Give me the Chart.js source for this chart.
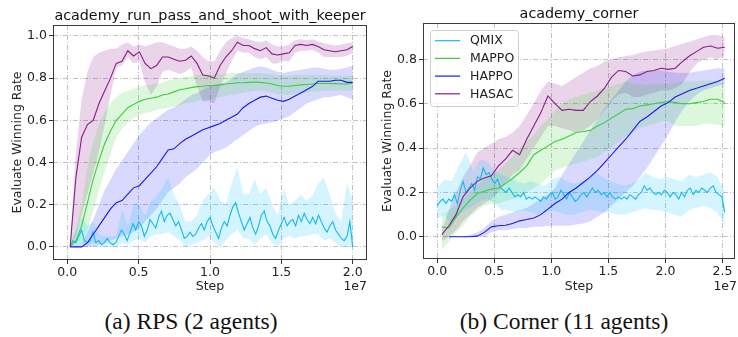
<!DOCTYPE html>
<html>
<head>
<meta charset="utf-8">
<script src="https://cdn.jsdelivr.net/npm/chart.js@4.4.1/dist/chart.umd.min.js"></script>
<style>
  body { margin: 0; background: #fff; width: 738px; height: 337px; position: relative; overflow: hidden; }
  .panel { position: absolute; top: 0; }
  .cap { position: absolute; top: 309px; font: 23.5px "Liberation Serif", "Times New Roman", serif; line-height: 24px; color: #111; text-align: center; }
</style>
</head>
<body>
<div class="panel" style="left:0"><canvas id="rps" width="369" height="300"></canvas></div>
<div class="panel" style="left:369px"><canvas id="corner" width="369" height="300"></canvas></div>
<div class="cap" style="left:0;width:382px">(a) RPS (2 agents)</div>
<div class="cap" style="left:390px;width:348px">(b) Corner (11 agents)</div>
<script>
// ---- academy_run_pass_and_shoot_with_keeper (x in units of 1e7 steps) ----
const rpsCoarse = { start: 0.02, end: 2.0, n: 50 };
const rpsFine = { start: 0.02, end: 2.0, n: 100 };
const rpsQmixBandGrid = { start: 0.02, end: 2.0, n: 50 };

const rpsHasac = [0.0, 0.33, 0.52, 0.58, 0.6, 0.68, 0.74, 0.8, 0.87, 0.88, 0.93, 0.905, 0.925, 0.87, 0.845, 0.86, 0.9, 0.9, 0.89, 0.88,
  0.885, 0.905, 0.87, 0.815, 0.81, 0.8, 0.86, 0.9, 0.93, 0.97, 0.955, 0.955, 0.94, 0.93, 0.945, 0.915, 0.91, 0.915, 0.92, 0.955,
  0.96, 0.955, 0.96, 0.95, 0.935, 0.93, 0.925, 0.93, 0.935, 0.95];
const rpsHasacHi = [0.02, 0.45, 0.7, 0.83, 0.9, 0.92, 0.93, 0.94, 0.94, 0.96, 0.97, 0.95, 0.96, 0.95, 0.96, 0.97, 0.97, 0.96, 0.95, 0.94,
  0.94, 0.95, 0.93, 0.9, 0.88, 0.88, 0.93, 0.97, 0.99, 1.0, 0.99, 0.985, 0.975, 0.97, 0.98, 0.96, 0.95, 0.95, 0.96, 0.98,
  0.985, 0.98, 0.985, 0.975, 0.965, 0.96, 0.955, 0.96, 0.965, 0.97];
const rpsHasacLo = [0.0, 0.05, 0.15, 0.25, 0.35, 0.45, 0.58, 0.72, 0.85, 0.86, 0.9, 0.87, 0.88, 0.78, 0.72, 0.76, 0.83, 0.84, 0.83, 0.82,
  0.83, 0.85, 0.76, 0.69, 0.69, 0.68, 0.76, 0.82, 0.88, 0.93, 0.92, 0.92, 0.9, 0.89, 0.9, 0.87, 0.87, 0.88, 0.88, 0.92,
  0.93, 0.93, 0.935, 0.92, 0.9, 0.9, 0.9, 0.9, 0.905, 0.92];

const rpsMappo = [0.0, 0.03, 0.1, 0.21, 0.32, 0.41, 0.49, 0.55, 0.6, 0.63, 0.66, 0.675, 0.69, 0.7, 0.705, 0.71, 0.72, 0.725, 0.735, 0.745,
  0.75, 0.755, 0.76, 0.762, 0.765, 0.765, 0.768, 0.772, 0.775, 0.778, 0.778, 0.78, 0.782, 0.78, 0.777, 0.772, 0.765, 0.762, 0.762, 0.765,
  0.768, 0.77, 0.772, 0.775, 0.775, 0.775, 0.774, 0.772, 0.772, 0.776];
const rpsMappoHi = [0.02, 0.08, 0.2, 0.38, 0.5, 0.58, 0.64, 0.68, 0.71, 0.73, 0.74, 0.75, 0.757, 0.765, 0.77, 0.775, 0.78, 0.79, 0.795, 0.8,
  0.805, 0.81, 0.815, 0.815, 0.82, 0.82, 0.82, 0.822, 0.825, 0.825, 0.825, 0.825, 0.825, 0.825, 0.822, 0.82, 0.815, 0.812, 0.812, 0.815,
  0.815, 0.815, 0.815, 0.815, 0.815, 0.812, 0.81, 0.81, 0.81, 0.81];
const rpsMappoLo = [0.0, 0.0, 0.02, 0.08, 0.17, 0.27, 0.36, 0.44, 0.52, 0.56, 0.59, 0.61, 0.625, 0.635, 0.64, 0.65, 0.655, 0.66, 0.665, 0.67,
  0.68, 0.685, 0.69, 0.695, 0.7, 0.705, 0.71, 0.715, 0.72, 0.725, 0.73, 0.735, 0.74, 0.74, 0.735, 0.73, 0.725, 0.72, 0.72, 0.725,
  0.73, 0.73, 0.735, 0.735, 0.74, 0.74, 0.74, 0.74, 0.74, 0.74];

const rpsHappo = [0.0, 0.0, 0.0, 0.02, 0.06, 0.1, 0.14, 0.18, 0.21, 0.22, 0.25, 0.28, 0.29, 0.32, 0.35, 0.38, 0.42, 0.46, 0.465, 0.49,
  0.51, 0.525, 0.54, 0.555, 0.565, 0.575, 0.585, 0.6, 0.615, 0.63, 0.66, 0.68, 0.695, 0.71, 0.715, 0.705, 0.695, 0.69, 0.7, 0.715,
  0.73, 0.745, 0.76, 0.785, 0.785, 0.785, 0.79, 0.79, 0.78, 0.78];
const rpsHappoHi = [0.0, 0.0, 0.02, 0.07, 0.13, 0.2, 0.27, 0.32, 0.37, 0.41, 0.45, 0.49, 0.53, 0.56, 0.59, 0.61, 0.63, 0.65, 0.66, 0.68,
  0.7, 0.72, 0.73, 0.745, 0.76, 0.77, 0.775, 0.78, 0.8, 0.82, 0.83, 0.84, 0.85, 0.855, 0.85, 0.84, 0.83, 0.825, 0.83, 0.835,
  0.84, 0.845, 0.85, 0.85, 0.845, 0.84, 0.84, 0.845, 0.85, 0.86];
const rpsHappoLo = [0.0, 0.0, 0.0, 0.0, 0.0, 0.01, 0.02, 0.03, 0.04, 0.05, 0.06, 0.07, 0.09, 0.12, 0.15, 0.18, 0.22, 0.26, 0.28, 0.3,
  0.33, 0.35, 0.37, 0.4, 0.43, 0.45, 0.46, 0.47, 0.49, 0.51, 0.53, 0.55, 0.57, 0.58, 0.585, 0.59, 0.6, 0.61, 0.62, 0.64,
  0.66, 0.68, 0.69, 0.7, 0.71, 0.71, 0.715, 0.72, 0.71, 0.7];

const rpsQmix = [0.0, 0.03, 0.02, 0.05, 0.08, 0.03, 0.02, 0.03, 0.07, 0.02, 0.03, 0.01, 0.02, 0.04, 0.02, 0.01, 0.02, 0.05, 0.08, 0.06,
  0.03, 0.07, 0.11, 0.08, 0.12, 0.1, 0.05, 0.08, 0.13, 0.11, 0.09, 0.14, 0.17, 0.12, 0.15, 0.16, 0.13, 0.1, 0.12, 0.08,
  0.04, 0.05, 0.07, 0.05, 0.06, 0.09, 0.11, 0.08, 0.12, 0.14, 0.1, 0.07, 0.04, 0.09, 0.12, 0.1, 0.15, 0.19, 0.21, 0.16,
  0.12, 0.08, 0.11, 0.14, 0.09, 0.06, 0.1, 0.15, 0.17, 0.12, 0.1, 0.06, 0.04, 0.08, 0.11, 0.14, 0.1, 0.12, 0.13, 0.1,
  0.15, 0.12, 0.16, 0.13, 0.11, 0.14, 0.11, 0.15, 0.12, 0.09, 0.07, 0.1, 0.12, 0.08, 0.06, 0.04, 0.03, 0.05, 0.12, 0.0];
const rpsQmixHi = [0.0, 0.08, 0.14, 0.1, 0.12, 0.06, 0.05, 0.05, 0.05, 0.18, 0.1, 0.2, 0.2, 0.15, 0.22, 0.24, 0.28, 0.33, 0.25, 0.2,
  0.12, 0.12, 0.15, 0.22, 0.25, 0.28, 0.22, 0.2, 0.3, 0.38, 0.25, 0.25, 0.32, 0.25, 0.28, 0.2, 0.15, 0.28, 0.2, 0.22,
  0.25, 0.22, 0.24, 0.3, 0.33, 0.25, 0.16, 0.12, 0.3, 0.22];
const rpsQmixLo = [0.0, 0.0, 0.02, 0.0, 0.02, 0.0, 0.0, 0.0, 0.0, 0.02, 0.01, 0.03, 0.04, 0.02, 0.05, 0.06, 0.06, 0.07, 0.05, 0.03,
  0.0, 0.01, 0.02, 0.03, 0.05, 0.02, 0.0, 0.03, 0.06, 0.08, 0.04, 0.04, 0.01, 0.04, 0.06, 0.02, 0.0, 0.04, 0.05, 0.04,
  0.05, 0.05, 0.06, 0.06, 0.03, 0.04, 0.02, 0.0, 0.0, 0.0];

// ---- academy_corner ----
const cornerCoarse = { start: 0.04, end: 2.52, n: 41 };
const cornerFine = { start: 0.0, end: 2.52, n: 101 };
const cornerQmixBandGrid = { start: 0.0, end: 2.52, n: 41 };

const cornerHasac = [0.01, 0.05, 0.1, 0.18, 0.22, 0.25, 0.265, 0.275, 0.32, 0.35, 0.39, 0.37, 0.44, 0.5, 0.56, 0.635, 0.6, 0.57, 0.575, 0.57,
  0.57, 0.61, 0.635, 0.67, 0.72, 0.75, 0.745, 0.725, 0.73, 0.745, 0.75, 0.76, 0.755, 0.76, 0.79, 0.815, 0.835, 0.855, 0.86, 0.85, 0.855];
const cornerHasacHi = [0.03, 0.12, 0.2, 0.27, 0.32, 0.38, 0.4, 0.42, 0.44, 0.45, 0.47, 0.5, 0.55, 0.6, 0.66, 0.7, 0.69, 0.68, 0.7, 0.72,
  0.74, 0.76, 0.77, 0.79, 0.8, 0.81, 0.815, 0.82, 0.83, 0.835, 0.84, 0.845, 0.85, 0.86, 0.87, 0.88, 0.89, 0.9, 0.91, 0.91, 0.9];
const cornerHasacLo = [-0.02, 0.0, 0.03, 0.07, 0.1, 0.13, 0.15, 0.17, 0.2, 0.24, 0.28, 0.3, 0.35, 0.4, 0.45, 0.5, 0.5, 0.49, 0.48, 0.47,
  0.48, 0.5, 0.53, 0.57, 0.61, 0.64, 0.65, 0.63, 0.63, 0.64, 0.65, 0.66, 0.66, 0.67, 0.69, 0.74, 0.78, 0.8, 0.81, 0.8, 0.82];

const cornerMappo = [0.045, 0.04, 0.09, 0.13, 0.165, 0.195, 0.205, 0.215, 0.22, 0.24, 0.263, 0.29, 0.32, 0.37, 0.39, 0.41, 0.43, 0.44, 0.455, 0.47,
  0.475, 0.48, 0.5, 0.515, 0.535, 0.555, 0.575, 0.578, 0.59, 0.595, 0.6, 0.605, 0.61, 0.605, 0.6, 0.6, 0.605, 0.61, 0.62, 0.62, 0.605];
const cornerMappoHi = [0.1, 0.12, 0.14, 0.17, 0.2, 0.23, 0.26, 0.28, 0.3, 0.33, 0.36, 0.4, 0.43, 0.46, 0.5, 0.53, 0.57, 0.6, 0.62, 0.63,
  0.64, 0.65, 0.66, 0.67, 0.68, 0.69, 0.7, 0.69, 0.69, 0.685, 0.69, 0.69, 0.69, 0.695, 0.7, 0.7, 0.7, 0.705, 0.705, 0.7, 0.7];
const cornerMappoLo = [-0.06, -0.02, 0.02, 0.05, 0.09, 0.12, 0.14, 0.15, 0.15, 0.16, 0.17, 0.18, 0.2, 0.22, 0.24, 0.27, 0.3, 0.31, 0.32, 0.33,
  0.34, 0.35, 0.36, 0.38, 0.4, 0.43, 0.45, 0.47, 0.49, 0.5, 0.51, 0.52, 0.52, 0.5, 0.5, 0.5, 0.5, 0.51, 0.51, 0.505, 0.5];

const cornerHappo = [null, 0.0, 0.0, 0.0, 0.0, 0.003, 0.02, 0.045, 0.05, 0.052, 0.06, 0.072, 0.078, 0.085, 0.1, 0.125, 0.15, 0.17, 0.2, 0.22,
  0.245, 0.27, 0.3, 0.335, 0.37, 0.405, 0.44, 0.48, 0.52, 0.54, 0.565, 0.59, 0.605, 0.63, 0.645, 0.66, 0.67, 0.68, 0.69, 0.7, 0.715];
const cornerHappoHi = [null, 0.0, 0.0, 0.0, 0.01, 0.02, 0.04, 0.07, 0.09, 0.1, 0.11, 0.12, 0.13, 0.15, 0.17, 0.19, 0.22, 0.28, 0.33, 0.38,
  0.43, 0.48, 0.53, 0.58, 0.62, 0.66, 0.7, 0.73, 0.745, 0.75, 0.75, 0.75, 0.745, 0.74, 0.74, 0.74, 0.745, 0.75, 0.755, 0.76, 0.76];
const cornerHappoLo = [null, 0.0, 0.0, 0.0, 0.0, 0.0, 0.0, 0.02, 0.03, 0.03, 0.035, 0.04, 0.04, 0.045, 0.045, 0.05, 0.05, 0.05, 0.05, 0.055,
  0.06, 0.07, 0.09, 0.11, 0.14, 0.17, 0.2, 0.23, 0.27, 0.31, 0.36, 0.41, 0.46, 0.52, 0.57, 0.61, 0.64, 0.66, 0.67, 0.68, 0.69];

const cornerQmix = [0.14, 0.16, 0.17, 0.15, 0.17, 0.16, 0.19, 0.15, 0.21, 0.25, 0.2, 0.22, 0.24, 0.21, 0.27, 0.26, 0.31, 0.28, 0.29, 0.26,
  0.24, 0.26, 0.22, 0.21, 0.2, 0.22, 0.2, 0.18, 0.19, 0.18, 0.2, 0.17, 0.18, 0.17, 0.18, 0.17, 0.16, 0.18, 0.17, 0.19,
  0.2, 0.17, 0.18, 0.21, 0.19, 0.17, 0.2, 0.18, 0.16, 0.17, 0.19, 0.2, 0.18, 0.2, 0.22, 0.2, 0.21, 0.19, 0.2, 0.18,
  0.2, 0.18, 0.17, 0.18, 0.17, 0.18, 0.17, 0.19, 0.18, 0.17, 0.19, 0.2, 0.23, 0.21, 0.22, 0.2, 0.19, 0.2, 0.19, 0.21,
  0.2, 0.18, 0.2, 0.19, 0.17, 0.2, 0.18, 0.21, 0.22, 0.19, 0.21, 0.2, 0.22, 0.21, 0.2, 0.22, 0.23, 0.2, 0.19, 0.18, 0.11];
const cornerQmixHi = [0.22, 0.26, 0.25, 0.32, 0.38, 0.3, 0.35, 0.34, 0.3, 0.28, 0.27, 0.25, 0.24, 0.25, 0.24, 0.23, 0.26, 0.27, 0.25, 0.24,
  0.25, 0.26, 0.29, 0.27, 0.25, 0.24, 0.23, 0.24, 0.26, 0.29, 0.27, 0.26, 0.27, 0.26, 0.25, 0.28, 0.27, 0.28, 0.29, 0.27, 0.2];
const cornerQmixLo = [0.08, 0.1, 0.05, 0.1, 0.12, 0.14, 0.16, 0.17, 0.15, 0.12, 0.12, 0.11, 0.12, 0.11, 0.1, 0.11, 0.12, 0.11, 0.1, 0.1,
  0.11, 0.12, 0.12, 0.11, 0.11, 0.1, 0.1, 0.11, 0.12, 0.13, 0.12, 0.12, 0.11, 0.1, 0.09, 0.12, 0.13, 0.14, 0.13, 0.11, 0.05];

const seriesNames = ['QMIX', 'MAPPO', 'HAPPO', 'HASAC'];
const seriesColors = ['#10b9f2', '#3ccd3c', '#1818f0', '#8a1a8a'];
const bandColors = ['rgba(0,191,255,0.17)', 'rgba(50,205,50,0.17)', 'rgba(0,0,255,0.15)', 'rgba(128,0,128,0.17)'];

const rpsXTicks = [0, 0.5, 1.0, 1.5, 2.0];
const rpsYTicks = [0, 0.2, 0.4, 0.6, 0.8, 1.0];
const cornerXTicks = [0, 0.5, 1.0, 1.5, 2.0, 2.5];
const cornerYTicks = [0, 0.2, 0.4, 0.6, 0.8];

const toPoints = (grid, ys) => ys.map((y, i) => ({ x: grid.start + i * (grid.end - grid.start) / (grid.n - 1), y }));

function buildDatasets(series) {
    const out = [];
    series.forEach((s, k) => {
        const base = out.length;
        out.push({ label: '_hi', data: toPoints(s.bandGrid, s.hi), borderWidth: 0, pointRadius: 0,
            backgroundColor: bandColors[k], fill: { target: base + 1 }, order: 20 });
        out.push({ label: '_lo', data: toPoints(s.bandGrid, s.lo), borderWidth: 0, pointRadius: 0, fill: false, order: 20 });
        out.push({ label: seriesNames[k], data: toPoints(s.grid, s.mean), borderColor: seriesColors[k], borderWidth: 1.1,
            pointRadius: 0, fill: false, order: 10 - k, isLine: true });
    });
    return out;
}

// plot frame, centred title, offset text and the legend box
const frame = {
    id: 'frame',
    afterDraw(chart, args, opts) {
        const { ctx, chartArea: a } = chart;
        ctx.save();
        ctx.strokeStyle = '#3a3a3a';
        ctx.lineWidth = 1;
        ctx.strokeRect(Math.round(a.left) + 0.5, Math.round(a.top) + 0.5, Math.round(a.right - a.left) - 1, Math.round(a.bottom - a.top) - 1);
        ctx.fillStyle = '#111';
        ctx.font = '14.3px "DejaVu Sans"';
        ctx.textAlign = 'center';
        ctx.textBaseline = 'middle';
        ctx.fillText(opts.title, (a.left + a.right) / 2, opts.titleY);
        ctx.fillStyle = '#222';
        ctx.font = '12.5px "DejaVu Sans"';
        ctx.textAlign = 'right';
        ctx.fillText('1e7', a.right + opts.expOffset, 287);
        if (opts.legend) {
            const x = a.left + 7, y = a.top + 7;
            ctx.beginPath();
            ctx.roundRect(x + 0.5, y + 0.5, 88, 76, 3);
            ctx.fillStyle = 'rgba(255,255,255,0.85)';
            ctx.fill();
            ctx.strokeStyle = '#d0d0d0';
            ctx.stroke();
            const lines = chart.data.datasets.filter(d => d.isLine);
            lines.forEach((d, i) => {
                const ry = y + 10.7 + i * 17.7;
                ctx.beginPath();
                ctx.moveTo(x + 5, ry);
                ctx.lineTo(x + 30, ry);
                ctx.strokeStyle = d.borderColor;
                ctx.lineWidth = 1.2;
                ctx.stroke();
                ctx.fillStyle = '#222';
                ctx.textAlign = 'left';
                ctx.font = '12.5px "DejaVu Sans"';
                ctx.fillText(d.label, x + 40, ry + 0.5);
            });
        }
        ctx.restore();
    }
};

function makeChart(id, cfg) {
    const tickFont = { family: 'DejaVu Sans', size: 12.5 };
    return new Chart(document.getElementById(id), {
        type: 'line',
        data: { datasets: buildDatasets(cfg.series) },
        plugins: [frame],
        options: {
            responsive: false,
            animation: false,
            layout: { padding: { left: 0, right: cfg.padRight, top: cfg.plotTop, bottom: 0 } },
            plugins: {
                legend: { display: false },
                tooltip: { enabled: false },
                filler: { drawTime: 'beforeDatasetsDraw' },
                frame: { title: cfg.title, titleY: cfg.titleY, expOffset: cfg.expOffset, legend: cfg.legend }
            },
            scales: {
                x: {
                    type: 'linear', min: cfg.xMin, max: cfg.xMax,
                    afterFit: s => { s.height = cfg.xAxisH; },
                    afterBuildTicks: s => { s.ticks = cfg.xTicks.map(v => ({ value: v })); },
                    ticks: { color: '#222', font: tickFont, padding: 1, maxRotation: 0, autoSkip: false, callback: v => v.toFixed(1) },
                    grid: { color: '#b4b4b4', lineWidth: 0.8, tickLength: 4, tickColor: '#333', tickWidth: 1 },
                    border: { display: false, dash: [5, 2, 1, 2] },
                    title: { display: true, text: 'Step', color: '#222', font: tickFont, padding: { top: 0, bottom: 6 } }
                },
                y: {
                    type: 'linear', min: cfg.yMin, max: cfg.yMax,
                    afterFit: s => { s.width = cfg.yAxisW; },
                    afterBuildTicks: s => { s.ticks = cfg.yTicks.map(v => ({ value: v })); },
                    ticks: { color: '#222', font: tickFont, padding: 2, autoSkip: false, callback: v => v.toFixed(1) },
                    grid: { color: '#b4b4b4', lineWidth: 0.8, tickLength: 4, tickColor: '#333', tickWidth: 1 },
                    border: { display: false, dash: [5, 2, 1, 2] },
                    title: { display: true, text: 'Evaluate Winning Rate', color: '#222', font: tickFont, padding: { top: cfg.yTitlePad, bottom: 0 } }
                }
            }
        }
    });
}

makeChart('rps', {
    title: 'academy_run_pass_and_shoot_with_keeper', titleY: 16, plotTop: 25, padRight: 2, xAxisH: 40, yAxisW: 53, yTitlePad: 10,
    xMin: -0.1, xMax: 2.1, yMin: -0.062, yMax: 1.052, xTicks: rpsXTicks, yTicks: rpsYTicks, expOffset: 0, legend: false,
    series: [
        { grid: rpsFine, mean: rpsQmix, bandGrid: rpsQmixBandGrid, hi: rpsQmixHi, lo: rpsQmixLo },
        { grid: rpsCoarse, mean: rpsMappo, bandGrid: rpsCoarse, hi: rpsMappoHi, lo: rpsMappoLo },
        { grid: rpsCoarse, mean: rpsHappo, bandGrid: rpsCoarse, hi: rpsHappoHi, lo: rpsHappoLo },
        { grid: rpsCoarse, mean: rpsHasac, bandGrid: rpsCoarse, hi: rpsHasacHi, lo: rpsHasacLo }
    ]
});

makeChart('corner', {
    title: 'academy_corner', titleY: 14, plotTop: 23, padRight: 3, xAxisH: 41, yAxisW: 54, yTitlePad: 11,
    xMin: -0.125, xMax: 2.61, yMin: -0.1, yMax: 0.964, xTicks: cornerXTicks, yTicks: cornerYTicks, expOffset: 2, legend: true,
    series: [
        { grid: cornerFine, mean: cornerQmix, bandGrid: cornerQmixBandGrid, hi: cornerQmixHi, lo: cornerQmixLo },
        { grid: cornerCoarse, mean: cornerMappo, bandGrid: cornerCoarse, hi: cornerMappoHi, lo: cornerMappoLo },
        { grid: cornerCoarse, mean: cornerHappo, bandGrid: cornerCoarse, hi: cornerHappoHi, lo: cornerHappoLo },
        { grid: cornerCoarse, mean: cornerHasac, bandGrid: cornerCoarse, hi: cornerHasacHi, lo: cornerHasacLo }
    ]
});
</script>
</body>
</html>
